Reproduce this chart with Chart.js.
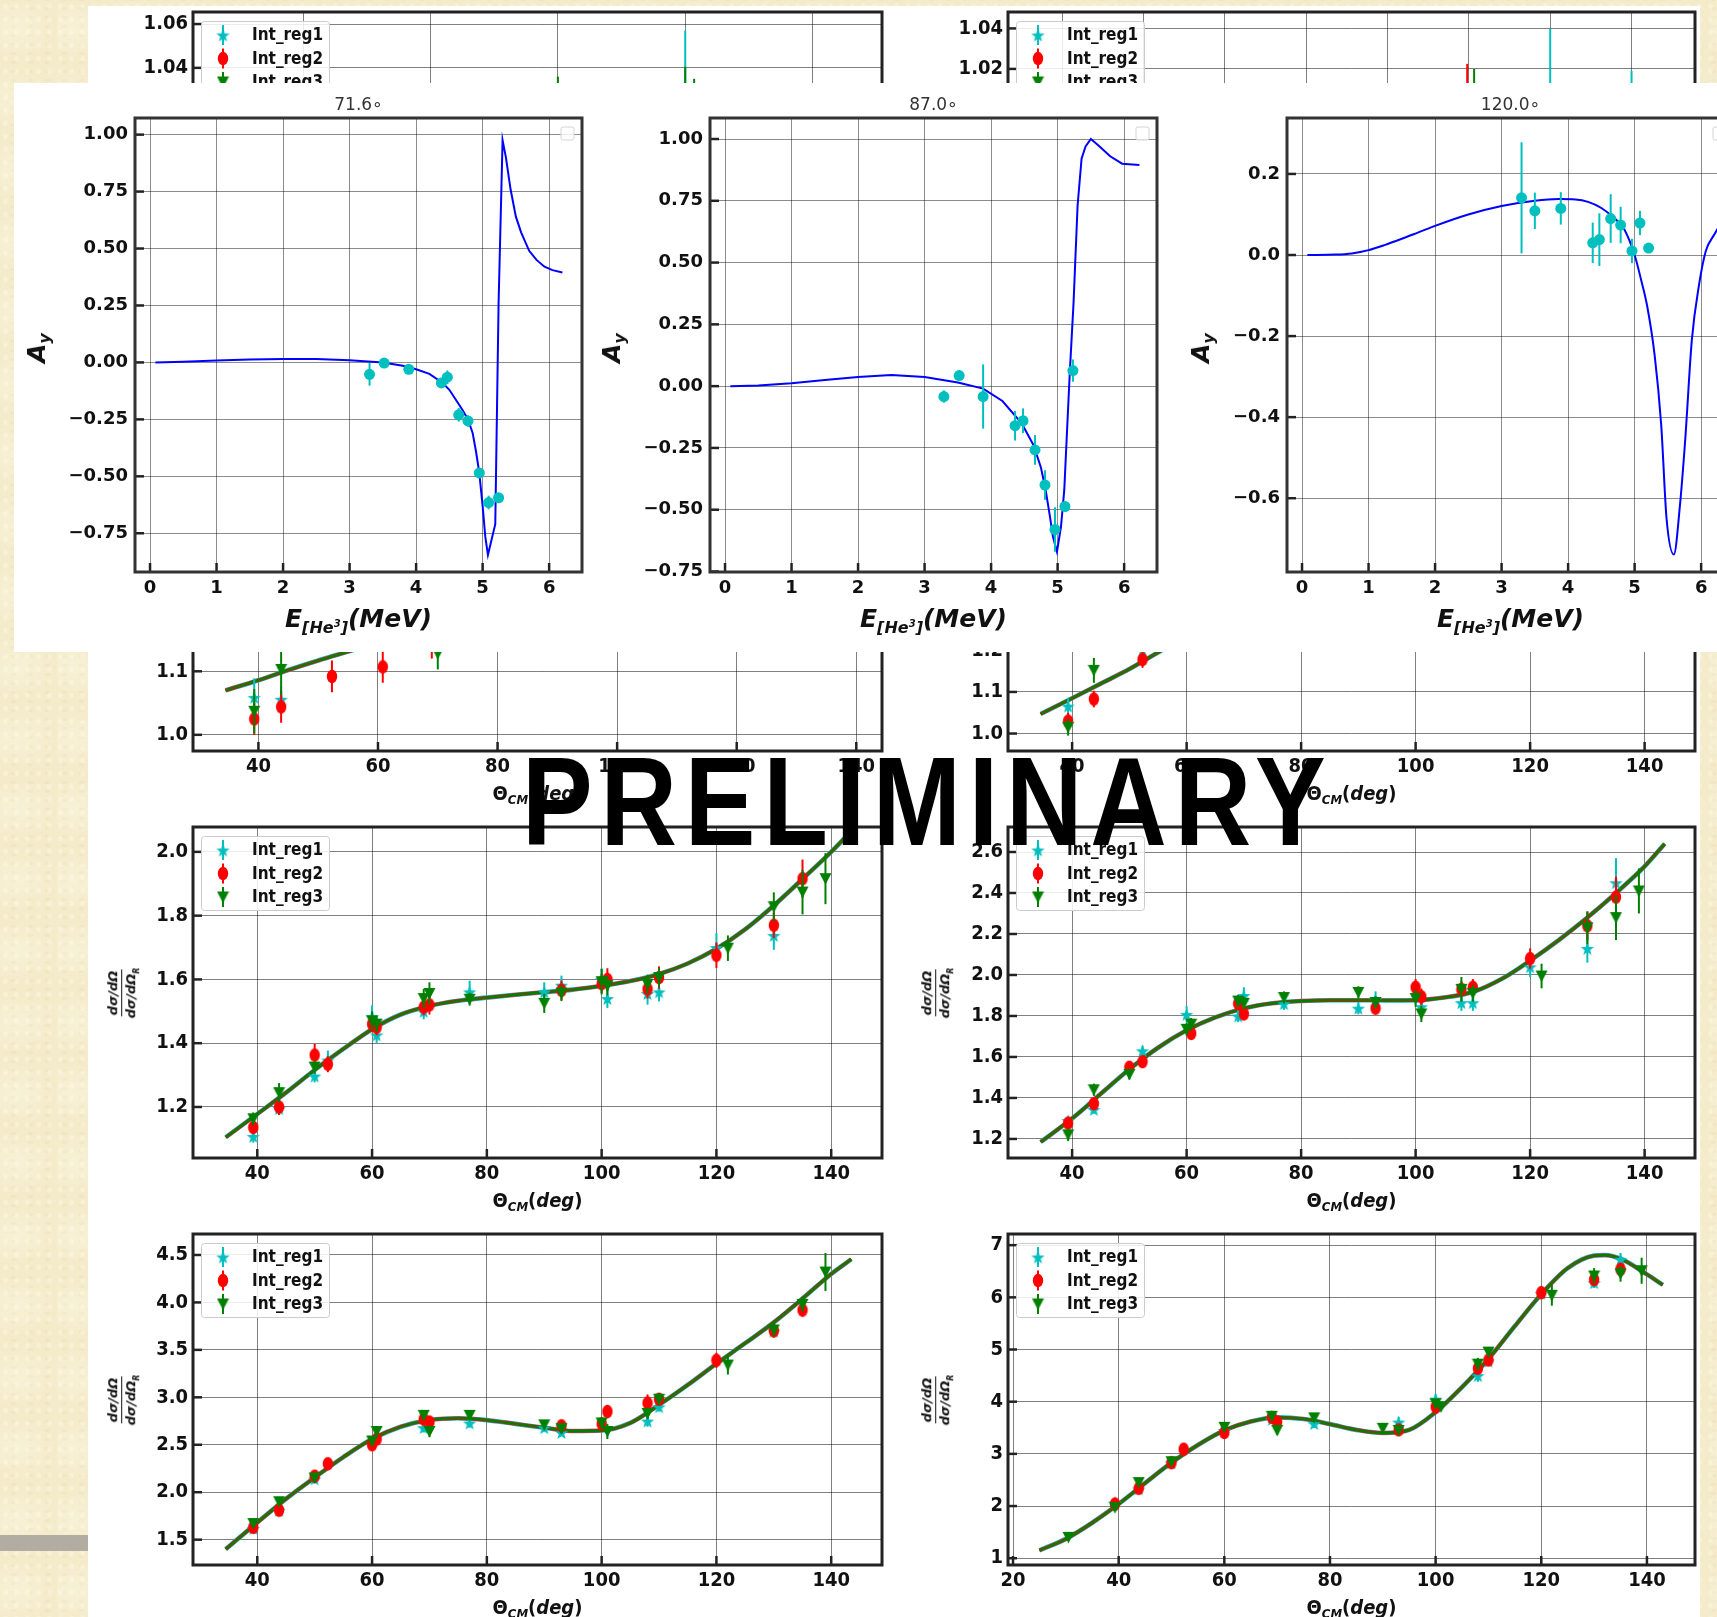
<!DOCTYPE html>
<html>
<head>
<meta charset="utf-8">
<script src="https://cdn.jsdelivr.net/npm/chart.js"></script>
<style>
  html, body { margin: 0; padding: 0; }
  body {
    width: 1717px; height: 1617px; overflow: hidden; position: relative;
    background-color: #f4ebca;
    background-image:
      radial-gradient(ellipse 40px 30px at 30% 40%, rgba(255, 253, 238, 0.35), transparent),
      radial-gradient(rgba(255, 252, 236, 0.35) 1.5px, transparent 3px),
      radial-gradient(rgba(214, 196, 146, 0.14) 2px, transparent 4px);
    background-size: 57px 71px, 11px 13px, 17px 9px;
    background-position: 0 0, 0 0, 5px 4px;
  }
  #slide { position: absolute; left: 88px; top: 6px; width: 1612px; height: 1611px; background: #fff; z-index: 0; }
  #greybar { position: absolute; left: 0; top: 1535px; width: 88px; height: 16px; background: #b1ada3; z-index: 0; }
  #panel { position: absolute; left: 14px; top: 83px; width: 1703px; height: 569px; background: #fff; z-index: 4; }
  canvas { position: absolute; }
  .lbl { position: absolute; white-space: nowrap; transform: translate(-50%, -50%); color: #111; line-height: 1; }
  .xs-x { font: bold 20px "DejaVu Sans Condensed", "Liberation Sans Narrow", "DejaVu Sans", sans-serif; }
  .xs-x sub { font-size: 13px; vertical-align: -4px; font-style: italic; }
  .xs-x i { font-style: italic; }
  .ay-x { font: bold italic 25px "DejaVu Sans", sans-serif; }
  .ay-x sub { font-size: 16px; vertical-align: -6px; }
  .ay-x sup { font-size: 10px; vertical-align: 6px; }
  .ay-y { font: bold italic 25px "DejaVu Sans", sans-serif; transform: translate(-50%, -50%) rotate(-90deg); }
  .ay-y sub { font-size: 16px; vertical-align: -5px; }
  .ay-t { font: 17px "DejaVu Sans", sans-serif; color: #333; }
  .frac { font: bold italic 13px "DejaVu Sans", sans-serif; transform: translate(-50%, -50%) rotate(-90deg);
          display: flex; flex-direction: column; align-items: center; }
  .frac .num { border-bottom: 1px solid #111; padding: 0 1px 1px; }
  .frac .den { padding-top: 1px; }
  .frac sub { font-size: 8px; }
  #stamp { position: absolute; z-index: 10; white-space: nowrap; font-weight: bold; color: #000; line-height: 1; transform-origin: 0 0; }
  #stampBase { display: inline-block; width: 0; height: 0; vertical-align: baseline; }
</style>
</head>
<body>
<div id="slide"></div>
<div id="greybar"></div>
<div id="panel"></div>
<div id="stamp"><span id="stampText">PRELIMINARY</span><span id="stampBase"></span></div>

<script>
// ================= data =================

// Analysing power A_y versus 3He beam energy at three c.m. angles
const AY_TITLES = ['71.6\u2218', '87.0\u2218', '120.0\u2218'];
const AY_E_TICKS = [0, 1, 2, 3, 4, 5, 6];
const AY_TICKS_A = [-0.75, -0.5, -0.25, 0, 0.25, 0.5, 0.75, 1.0];
const AY_TICKS_B = [-0.6, -0.4, -0.2, 0, 0.2];

const AY716_E   = [3.30, 3.52, 3.89, 4.38, 4.47, 4.64, 4.78, 4.95, 5.09, 5.24];
const AY716_VAL = [-0.052, -0.003, -0.030, -0.090, -0.065, -0.230, -0.257, -0.485, -0.615, -0.594];
const AY716_ERR = [0.050, 0.020, 0.020, 0.020, 0.030, 0.030, 0.025, 0.020, 0.030, 0.020];
const AY716_FIT_E = [0.08, 0.5, 1.0, 1.5, 2.0, 2.5, 3.0, 3.5, 3.8, 4.0, 4.2, 4.4, 4.5, 4.6, 4.7, 4.78, 4.85,
                     4.9, 4.95, 5.0, 5.04, 5.08, 5.19, 5.24, 5.30, 5.35, 5.42, 5.50, 5.58, 5.70, 5.81, 5.93, 6.05, 6.20];
const AY716_FIT   = [0, 0.003, 0.008, 0.013, 0.015, 0.015, 0.010, 0.0, -0.015, -0.03, -0.05, -0.09, -0.12, -0.165,
                     -0.21, -0.25, -0.31, -0.39, -0.485, -0.63, -0.765, -0.845, -0.71, 0.26, 0.975, 0.90, 0.76,
                     0.64, 0.57, 0.49, 0.45, 0.42, 0.405, 0.395];

const AY870_E   = [3.29, 3.52, 3.88, 4.36, 4.48, 4.66, 4.81, 4.96, 5.11, 5.23];
const AY870_VAL = [-0.042, 0.043, -0.042, -0.160, -0.140, -0.258, -0.400, -0.580, -0.487, 0.063];
const AY870_ERR = [0.025, 0.020, 0.130, 0.060, 0.050, 0.060, 0.060, 0.090, 0.020, 0.045];
const AY870_FIT_E = [0.08, 0.5, 1.0, 1.5, 2.0, 2.5, 3.0, 3.5, 3.88, 4.17, 4.46, 4.64, 4.75, 4.82, 4.88, 4.93,
                     4.99, 5.05, 5.10, 5.18, 5.24, 5.30, 5.36, 5.42, 5.50, 5.61, 5.79, 5.97, 6.23];
const AY870_FIT   = [0, 0.003, 0.012, 0.025, 0.037, 0.045, 0.037, 0.015, -0.01, -0.06, -0.15, -0.24, -0.33,
                     -0.42, -0.52, -0.61, -0.67, -0.57, -0.42, 0.04, 0.34, 0.73, 0.92, 0.97, 1.00, 0.975,
                     0.93, 0.90, 0.895];

const AY1200_E   = [3.30, 3.50, 3.89, 4.37, 4.47, 4.64, 4.79, 4.96, 5.08, 5.21];
const AY1200_VAL = [0.141, 0.109, 0.115, 0.030, 0.038, 0.090, 0.074, 0.010, 0.079, 0.017];
const AY1200_ERR = [0.137, 0.045, 0.040, 0.050, 0.065, 0.060, 0.045, 0.030, 0.030, 0.010];
const AY1200_FIT_E = [0.08, 0.5, 0.75, 1.0, 1.25, 1.5, 1.75, 2.0, 2.5, 3.0, 3.5, 3.86, 4.11, 4.3, 4.5, 4.7, 4.84,
                      5.0, 5.1, 5.19, 5.30, 5.40, 5.48, 5.59, 5.68, 5.76, 5.86, 5.97, 6.07, 6.20, 6.30];
const AY1200_FIT   = [0, 0.001, 0.004, 0.012, 0.025, 0.040, 0.056, 0.072, 0.100, 0.121, 0.134, 0.138, 0.137,
                      0.131, 0.116, 0.090, 0.065, 0.0, -0.063, -0.127, -0.246, -0.42, -0.65, -0.739, -0.62,
                      -0.457, -0.21, -0.072, 0.01, 0.051, 0.08];

// Cross section ratio to Rutherford versus c.m. angle, three integration regions
const XS_SERIES = ['Int_reg1', 'Int_reg2', 'Int_reg3'];
const XS_ANG = [30.5, 39.3, 43.8, 50.0, 52.3, 60.0, 60.8, 69.0, 70.0, 77.0, 90.0, 93.0, 100.0, 101.0, 108.0,
                110.0, 120.0, 122.0, 130.0, 135.0, 139.0];
const XS_FIT_ANG = [34.5, 40, 45, 50, 55, 60, 65, 70, 75, 80, 85, 90, 95, 100, 105, 110, 115, 120, 125, 130,
                    135, 140, 143.5];
const XS_THETA_TICKS = [40, 60, 80, 100, 120, 140];

// top row (mostly under the A_y panel)
const P1L_ANG1 = [100.0];             const P1L_REG1 = [1.005];               const P1L_ERR1 = [0.052];
const P1L_ANG2 = [];                  const P1L_REG2 = [];                    const P1L_ERR2 = [];
const P1L_ANG3 = [80.0, 100.0, 101.4]; const P1L_REG3 = [1.000, 1.000, 1.000]; const P1L_ERR3 = [0.036, 0.0405, 0.035];
const P1L_XTICKS = [40, 60, 80, 100, 120];
const P1L_YTICKS = [0.92, 0.94, 0.96, 0.98, 1.00, 1.02, 1.04, 1.06];

const P1R_ANG1 = [120.0, 140.0];      const P1R_REG1 = [1.000, 0.995];        const P1R_ERR1 = [0.040, 0.024];
const P1R_ANG2 = [99.6];              const P1R_REG2 = [0.995];               const P1R_ERR2 = [0.0275];
const P1R_ANG3 = [101.3];             const P1R_REG3 = [0.995];               const P1R_ERR3 = [0.025];
const P1R_XTICKS = [0, 20, 40, 60, 80, 100, 120, 140];
const P1R_YTICKS = [0.90, 0.92, 0.94, 0.96, 0.98, 1.00, 1.02, 1.04];

// second row (upper part under the A_y panel)
const P2L_ANG1 = [39.3, 43.8];                   const P2L_REG1 = [1.059, 1.056];                      const P2L_ERR1 = [0.030, 0.020];
const P2L_ANG2 = [39.3, 43.8, 52.3, 60.8, 69.0]; const P2L_REG2 = [1.025, 1.044, 1.092, 1.107, 1.145]; const P2L_ERR2 = [0.025, 0.025, 0.025, 0.025, 0.025];
const P2L_ANG3 = [39.3, 43.8, 70.0];             const P2L_REG3 = [1.037, 1.103, 1.128];               const P2L_ERR3 = [0.035, 0.040, 0.025];
const P2L_FIT_ANG = [34.5, 40, 45, 50, 55, 60];
const P2L_FIT = [1.070, 1.086, 1.102, 1.117, 1.131, 1.145];
const P2L_YTICKS = [1.0, 1.1, 1.2, 1.3, 1.4];

const P2R_ANG1 = [39.3, 52.3];                   const P2R_REG1 = [1.066, 1.200];                      const P2R_ERR1 = [0.020, 0.020];
const P2R_ANG2 = [39.3, 43.8, 52.3];             const P2R_REG2 = [1.030, 1.083, 1.178];               const P2R_ERR2 = [0.020, 0.020, 0.020];
const P2R_ANG3 = [39.3, 43.8];                   const P2R_REG3 = [1.015, 1.152];                      const P2R_ERR3 = [0.020, 0.030];
const P2R_FIT_ANG = [34.5, 40, 45, 50, 55, 60];
const P2R_FIT = [1.047, 1.085, 1.120, 1.155, 1.195, 1.235];
const P2R_YTICKS = [1.0, 1.1, 1.2, 1.3, 1.4, 1.5, 1.6, 1.7];

// third row
const P3L_REG1 = [null, 1.108, 1.195, 1.297, 1.347, 1.484, 1.426, 1.500, null, 1.561, 1.561, 1.582, 1.600, 1.540, 1.556, 1.561, 1.700, null, 1.738, null, null];
const P3L_ERR1 = [null, .020, .020, .020, .030, .035, .025, .025, null, .035, .030, .030, .035, .030, .035, .030, .045, null, .045, null, null];
const P3L_REG2 = [null, 1.136, 1.200, 1.363, 1.334, 1.460, 1.450, 1.513, 1.520, null, null, 1.566, 1.587, 1.600, 1.570, 1.606, 1.676, null, 1.770, 1.916, null];
const P3L_ERR2 = [null, .020, .025, .035, .025, .025, .025, .025, .030, null, null, .030, .030, .035, .030, .035, .040, null, .040, .060, null];
const P3L_REG3 = [null, 1.163, 1.245, 1.325, null, 1.470, 1.460, 1.540, 1.556, 1.538, 1.525, 1.557, 1.593, 1.580, 1.585, 1.606, null, 1.698, 1.828, 1.874, 1.916];
const P3L_ERR3 = [null, .020, .030, .020, null, .030, .025, .030, .035, .020, .030, .025, .040, .030, .030, .030, null, .040, .045, .070, .080];
const P3L_FIT  = [1.105, 1.178, 1.245, 1.316, 1.382, 1.444, 1.490, 1.517, 1.533, 1.543, 1.552, 1.560, 1.568, 1.580, 1.595, 1.617, 1.650, 1.696, 1.757, 1.832, 1.915, 2.000, 2.065];
const P3L_YTICKS = [1.2, 1.4, 1.6, 1.8, 2.0];

const P3R_REG1 = [null, 1.290, 1.344, null, 1.630, 1.808, null, 1.800, 1.900, 1.860, 1.838, 1.880, null, 1.845, 1.865, 1.865, 2.040, null, 2.130, 2.450, null];
const P3R_ERR1 = [null, .020, .020, null, .025, .040, null, .030, .040, .030, .030, .040, null, .040, .040, .040, .050, null, .070, .120, null];
const P3R_REG2 = [null, 1.277, 1.372, 1.550, 1.577, null, 1.715, 1.860, 1.810, null, null, 1.838, 1.940, 1.894, 1.930, 1.940, 2.080, null, 2.240, 2.380, null];
const P3R_ERR2 = [null, .025, .030, .030, .025, null, .030, .030, .030, null, null, .030, .040, .040, .040, .040, .050, null, .070, .100, null];
const P3R_REG3 = [null, 1.220, 1.440, 1.515, null, 1.735, 1.760, 1.873, 1.862, 1.890, 1.915, 1.866, 1.885, 1.810, 1.930, 1.910, null, 1.995, 2.230, 2.280, 2.410];
const P3R_ERR3 = [null, .030, .030, .025, null, .030, .030, .030, .030, .030, .030, .030, .040, .040, .060, .040, null, .060, .080, .110, .110];
const P3R_FIT  = [1.185, 1.300, 1.420, 1.540, 1.645, 1.730, 1.793, 1.837, 1.862, 1.873, 1.877, 1.877, 1.876, 1.877, 1.890, 1.917, 1.980, 2.070, 2.170, 2.280, 2.400, 2.530, 2.640];
const P3R_YTICKS = [1.2, 1.4, 1.6, 1.8, 2.0, 2.2, 2.4, 2.6];

// fourth row
const P4L_REG1 = [null, 1.620, 1.810, 2.140, null, null, null, 2.680, null, 2.730, 2.680, 2.630, null, null, 2.750, 2.900, null, null, 3.700, null, null];
const P4L_ERR1 = [null, .040, .040, .040, null, null, null, .050, null, .050, .040, .040, null, null, .060, .050, null, null, .060, null, null];
const P4L_REG2 = [null, 1.630, 1.810, 2.170, 2.300, 2.500, 2.560, 2.770, 2.740, null, null, 2.700, 2.720, 2.850, 2.940, 2.980, 3.390, null, 3.700, 3.920, null];
const P4L_ERR2 = [null, .040, .050, .040, .050, .050, .050, .050, .050, null, null, .050, .060, .070, .090, .060, .080, null, .070, .070, null];
const P4L_REG3 = [null, 1.670, 1.900, 2.150, null, 2.540, 2.640, 2.810, 2.640, 2.810, 2.710, 2.670, 2.730, 2.640, 2.830, 2.980, null, 3.340, 3.710, 3.980, 4.320];
const P4L_ERR3 = [null, .040, .050, .050, null, .050, .050, .050, .060, .050, .050, .050, .060, .080, .060, .060, null, .100, .070, .080, .200];
const P4L_FIT  = [1.400, 1.680, 1.930, 2.155, 2.370, 2.560, 2.690, 2.760, 2.780, 2.760, 2.720, 2.680, 2.645, 2.650, 2.730, 2.920, 3.130, 3.355, 3.570, 3.790, 4.040, 4.300, 4.455];
const P4L_YTICKS = [1.5, 2.0, 2.5, 3.0, 3.5, 4.0, 4.5];

const P4R_REG1 = [null, 2.060, 2.330, 2.830, null, 3.450, null, 3.660, null, 3.580, null, 3.610, 4.050, null, 4.500, 4.780, 6.080, null, 6.280, 6.730, null];
const P4R_ERR1 = [null, .050, .050, .060, null, .060, null, .070, null, .080, null, .100, .100, null, .120, .100, .120, null, .100, .120, null];
const P4R_REG2 = [null, 2.040, 2.340, 2.830, 3.090, 3.410, null, 3.700, 3.610, null, null, 3.460, 3.900, null, 4.640, 4.800, 6.090, null, 6.340, 6.540, null];
const P4R_ERR2 = [null, .050, .060, .060, .070, .070, null, .070, .070, null, null, .070, .080, null, .100, .100, .120, null, .100, .100, null];
const P4R_REG3 = [1.400, 1.970, 2.450, 2.850, null, 3.510, null, 3.720, 3.450, 3.690, 3.490, 3.450, 3.960, 3.900, 4.720, 4.950, null, 6.040, 6.410, 6.450, 6.510];
const P4R_ERR3 = [.050, .050, .060, .060, null, .070, null, .070, .080, .080, .070, .070, .080, .080, .120, .100, null, .200, .150, .150, .250];
const P4R_FIT_ANG = [25, 30, 35, 40, 45, 50, 55, 60, 65, 70, 75, 80, 85, 90, 95, 100, 105, 110, 115, 120, 125, 130, 132, 135, 140, 143];
const P4R_FIT  = [1.15, 1.37, 1.68, 2.04, 2.44, 2.83, 3.17, 3.45, 3.62, 3.70, 3.67, 3.57, 3.46, 3.40, 3.46, 3.80, 4.28, 4.82, 5.45, 6.06, 6.56, 6.80, 6.81, 6.74, 6.44, 6.24];
const P4R_XTICKS = [20, 40, 60, 80, 100, 120, 140];
const P4R_YTICKS = [1, 2, 3, 4, 5, 6, 7];

// ================= styling =================
const C1 = '#00bfbf', C2 = '#ff0000', C3 = '#008000', C_FIT = '#0000ff';
const FONT_XS = '"DejaVu Sans Condensed", "Liberation Sans Narrow", "DejaVu Sans", sans-serif';
const FONT_AY = '"DejaVu Sans", sans-serif';

// page layout of the axes boxes (px)
const COL_L = { l: 193, w: 689 }, COL_R = { l: 1008, w: 687 };
const ROW_T = [12, 420, 827, 1234], ROW_H = 331;
const AY_BOX = { t: 118, h: 454, w: 447, l: [135, 710, 1287] };

// marker sprites
function sprite(w, h, draw) {
  const c = document.createElement('canvas');
  c.width = w; c.height = h;
  draw(c.getContext('2d'), w, h);
  return c;
}
const MK_STAR = sprite(15, 15, (g, w, h) => {
  g.fillStyle = C1; g.beginPath();
  for (let i = 0; i < 10; i++) {
    const r = i % 2 ? 2.9 : 7.0, a = -Math.PI / 2 + i * Math.PI / 5;
    g.lineTo(w / 2 + r * Math.cos(a), h / 2 + 0.8 + r * Math.sin(a));
  }
  g.closePath(); g.fill();
});
const MK_DOT = sprite(12, 15, (g, w, h) => {
  g.fillStyle = C2; g.beginPath(); g.ellipse(w / 2, h / 2, 5.2, 6.8, 0, 0, Math.PI * 2); g.fill();
});
const MK_TRI = sprite(13, 13, (g, w, h) => {
  g.fillStyle = C3; g.beginPath(); g.moveTo(0.5, 1); g.lineTo(w - 0.5, 1); g.lineTo(w / 2, h - 0.5); g.closePath(); g.fill();
});

function fmt(dec) {
  return v => {
    const s = Math.abs(v).toFixed(dec);
    return (v < 0 && Number(s) !== 0 ? '\u2212' : '') + s;
  };
}

function rrect(ctx, x, y, w, h, r) {
  ctx.beginPath();
  ctx.moveTo(x + r, y); ctx.lineTo(x + w - r, y); ctx.arcTo(x + w, y, x + w, y + r, r);
  ctx.lineTo(x + w, y + h - r); ctx.arcTo(x + w, y + h, x + w - r, y + h, r);
  ctx.lineTo(x + r, y + h); ctx.arcTo(x, y + h, x, y + h - r, r);
  ctx.lineTo(x, y + r); ctx.arcTo(x, y, x + r, y, r); ctx.closePath();
}

// vertical error bars, drawn just beneath each dataset's markers
const errorBars = {
  id: 'errorBars',
  beforeDatasetDraw(chart, args) {
    const ds = chart.data.datasets[args.index];
    if (!ds.errs) return;
    const { ctx, chartArea: a, scales: { y } } = chart;
    ctx.save();
    ctx.beginPath(); ctx.rect(a.left, a.top, a.right - a.left, a.bottom - a.top); ctx.clip();
    ctx.strokeStyle = ds.borderColor; ctx.lineWidth = ds.errWidth || 2;
    args.meta.data.forEach((el, i) => {
      const p = ds.data[i], e = ds.errs[i];
      ctx.beginPath();
      ctx.moveTo(el.x, y.getPixelForValue(p.y - e));
      ctx.lineTo(el.x, y.getPixelForValue(p.y + e));
      ctx.stroke();
    });
    ctx.restore();
  }
};

// boxed axes with inward ticks on the bottom and left sides
const mplFrame = {
  id: 'mplFrame',
  afterDatasetsDraw(chart, args, o) {
    const { ctx, chartArea: a, scales: { x, y } } = chart;
    ctx.save();
    ctx.strokeStyle = o.tickColor; ctx.lineWidth = o.tickWidth;
    x.ticks.forEach(t => {
      const px = x.getPixelForValue(t.value);
      ctx.beginPath(); ctx.moveTo(px, a.bottom); ctx.lineTo(px, a.bottom - o.tickLen); ctx.stroke();
    });
    y.ticks.forEach(t => {
      const py = y.getPixelForValue(t.value);
      ctx.beginPath(); ctx.moveTo(a.left, py); ctx.lineTo(a.left + o.tickLen, py); ctx.stroke();
    });
    ctx.strokeStyle = o.frameColor; ctx.lineWidth = o.frameWidth;
    ctx.strokeRect(a.left, a.top, a.right - a.left, a.bottom - a.top);
    ctx.restore();
  }
};

// legend box in the upper corner of the axes
const mplLegend = {
  id: 'mplLegend',
  afterDraw(chart, args, o) {
    const { ctx, chartArea: a } = chart;
    ctx.save();
    if (o.empty) {
      rrect(ctx, a.right - 21, a.top + 9, 13, 13, 2);
      ctx.fillStyle = 'rgba(255,255,255,0.8)'; ctx.fill();
      ctx.strokeStyle = '#d4d4d4'; ctx.lineWidth = 1; ctx.stroke();
      ctx.restore();
      return;
    }
    const x0 = a.left + 8, y0 = a.top + 9;
    rrect(ctx, x0 + 0.5, y0 + 0.5, 128, 74, 3);
    ctx.fillStyle = 'rgba(255,255,255,0.85)'; ctx.fill();
    ctx.strokeStyle = '#cccccc'; ctx.lineWidth = 1; ctx.stroke();
    const items = chart.data.datasets.filter(d => d.legendImg).sort((p, q) => p.legendRank - q.legendRank);
    items.forEach((d, i) => {
      const cy = y0 + 14 + i * 23.5, mx = x0 + 22;
      ctx.strokeStyle = d.borderColor; ctx.lineWidth = 2;
      ctx.beginPath(); ctx.moveTo(mx, cy - 10); ctx.lineTo(mx, cy + 10); ctx.stroke();
      ctx.drawImage(d.legendImg, mx - d.legendImg.width / 2, cy - d.legendImg.height / 2);
      ctx.fillStyle = '#111'; ctx.font = 'bold 17px ' + FONT_XS; ctx.textBaseline = 'middle'; ctx.textAlign = 'left';
      ctx.fillText(d.label, x0 + 51, cy + 1);
    });
    ctx.restore();
  }
};

function makeChart(o) {
  const { box, pad } = o;
  const cv = document.createElement('canvas');
  const W = pad.l + box.w + pad.r, H = pad.t + box.h + pad.b;
  cv.width = W; cv.height = H;
  Object.assign(cv.style, { left: (box.l - pad.l) + 'px', top: (box.t - pad.t) + 'px', width: W + 'px', height: H + 'px', zIndex: o.z });
  document.body.appendChild(cv);
  const tickFont = { family: o.font, size: o.fontSize, weight: 'bold' };
  const axis = (min, max, ticks, dec, fit, padding) => ({
    type: 'linear', min, max,
    afterBuildTicks: s => { s.ticks = ticks.filter(v => v >= min - 1e-9 && v <= max + 1e-9).map(v => ({ value: v })); },
    afterFit: fit,
    grid: { color: o.gridColor, lineWidth: 1, drawTicks: false },
    border: { display: false },
    ticks: { font: tickFont, color: '#111', padding, autoSkip: false, maxRotation: 0, minRotation: 0, callback: fmt(dec) }
  });
  return new Chart(cv, {
    type: 'scatter',
    data: { datasets: o.datasets },
    options: {
      responsive: false, animation: false, devicePixelRatio: 1, events: [],
      layout: { padding: { left: 0, top: pad.t, right: pad.r, bottom: 0 } },
      scales: {
        x: axis(o.xr[0], o.xr[1], o.xt, o.xdec, s => { s.height = pad.b; }, o.xpad),
        y: axis(o.yr[0], o.yr[1], o.yt, o.ydec, s => { s.width = pad.l; }, o.ypad)
      },
      plugins: {
        legend: { display: false }, tooltip: { enabled: false },
        mplFrame: { tickLen: 9, tickWidth: 2.5, tickColor: '#222', frameColor: o.frameColor, frameWidth: 3 },
        mplLegend: o.legend
      }
    },
    plugins: [errorBars, mplFrame, mplLegend]
  });
}

function series(ang, val, err) {
  const data = [], errs = [];
  ang.forEach((a, i) => { if (val[i] != null) { data.push({ x: a, y: val[i] }); errs.push(err[i]); } });
  return { data, errs };
}
function curve(ang, val) { return ang.map((a, i) => ({ x: a, y: val[i] })); }

function label(html, cx, cy, cls, z) {
  const d = document.createElement('div');
  d.className = 'lbl ' + cls; d.innerHTML = html;
  d.style.left = cx + 'px'; d.style.top = cy + 'px'; d.style.zIndex = z;
  document.body.appendChild(d);
}

// ---- cross-section panels
function xsChart(p) {
  const s1 = series(p.a1, p.v1, p.e1), s2 = series(p.a2, p.v2, p.e2), s3 = series(p.a3, p.v3, p.e3);
  const pts = (s, lab, img, col, rank, order) => ({
    label: lab, data: s.data, errs: s.errs, showLine: false, pointStyle: img, pointRadius: 6,
    borderColor: col, backgroundColor: col, legendImg: img, legendRank: rank, order
  });
  const ds = [
    pts(s3, XS_SERIES[2], MK_TRI, C3, 3, 0),
    pts(s2, XS_SERIES[1], MK_DOT, C2, 2, 1),
    pts(s1, XS_SERIES[0], MK_STAR, C1, 1, 2)
  ];
  if (p.fit) {
    const line = (col, w, order) => ({ data: curve(p.fit[0], p.fit[1]), showLine: true, pointRadius: 0,
      borderColor: col, borderWidth: w, cubicInterpolationMode: 'monotone', order });
    ds.push(line(C3, 2.3, 3), line(C2, 3.4, 4), line(C1, 4.6, 5));
  }
  const col = p.col, T = ROW_T[p.row];
  const box = { l: col.l, t: T, w: col.w, h: ROW_H };
  makeChart({
    box, pad: { l: 110, r: 30, t: 20, b: 45 }, z: 1,
    xr: p.xr, yr: p.yr, xt: p.xt || XS_THETA_TICKS, yt: p.yt, xdec: 0, ydec: p.ydec, xpad: 4, ypad: 5,
    font: FONT_XS, fontSize: 20, gridColor: 'rgba(0,0,0,0.5)', frameColor: '#222',
    datasets: ds, legend: { empty: false }
  });
  label('\u0398<sub>CM</sub>(<i>deg</i>)', col.l + col.w / 2, T + ROW_H + 43, 'xs-x', 1);
  label('<span class="num"><i>d\u03c3</i>/<i>d</i>\u03a9</span><span class="den"><i>d\u03c3</i>/<i>d</i>\u03a9<sub>R</sub></span>',
        col === COL_L ? 123 : 937, T + ROW_H / 2, 'frac', 1);
}

xsChart({ row: 0, col: COL_L, xr: [22.7, 130.9], yr: [0.9144, 1.0655], xt: P1L_XTICKS, yt: P1L_YTICKS, ydec: 2,
  a1: P1L_ANG1, v1: P1L_REG1, e1: P1L_ERR1, a2: P1L_ANG2, v2: P1L_REG2, e2: P1L_ERR2, a3: P1L_ANG3, v3: P1L_REG3, e3: P1L_ERR3 });
xsChart({ row: 0, col: COL_R, xr: [-13.3, 155.6], yr: [0.8847, 1.0481], xt: P1R_XTICKS, yt: P1R_YTICKS, ydec: 2,
  a1: P1R_ANG1, v1: P1R_REG1, e1: P1R_ERR1, a2: P1R_ANG2, v2: P1R_REG2, e2: P1R_ERR2, a3: P1R_ANG3, v3: P1R_REG3, e3: P1R_ERR3 });

xsChart({ row: 1, col: COL_L, xr: [29.06, 144.3], yr: [0.9745, 1.4957], yt: P2L_YTICKS, ydec: 1,
  a1: P2L_ANG1, v1: P2L_REG1, e1: P2L_ERR1, a2: P2L_ANG2, v2: P2L_REG2, e2: P2L_ERR2, a3: P2L_ANG3, v3: P2L_REG3, e3: P2L_ERR3,
  fit: [P2L_FIT_ANG, P2L_FIT] });
xsChart({ row: 1, col: COL_R, xr: [28.8, 148.8], yr: [0.958, 1.754], yt: P2R_YTICKS, ydec: 1,
  a1: P2R_ANG1, v1: P2R_REG1, e1: P2R_ERR1, a2: P2R_ANG2, v2: P2R_REG2, e2: P2R_ERR2, a3: P2R_ANG3, v3: P2R_REG3, e3: P2R_ERR3,
  fit: [P2R_FIT_ANG, P2R_FIT] });

xsChart({ row: 2, col: COL_L, xr: [28.8, 148.85], yr: [1.040, 2.078], yt: P3L_YTICKS, ydec: 1,
  a1: XS_ANG, v1: P3L_REG1, e1: P3L_ERR1, a2: XS_ANG, v2: P3L_REG2, e2: P3L_ERR2, a3: XS_ANG, v3: P3L_REG3, e3: P3L_ERR3,
  fit: [XS_FIT_ANG, P3L_FIT] });
xsChart({ row: 2, col: COL_R, xr: [28.8, 148.8], yr: [1.107, 2.722], yt: P3R_YTICKS, ydec: 1,
  a1: XS_ANG, v1: P3R_REG1, e1: P3R_ERR1, a2: XS_ANG, v2: P3R_REG2, e2: P3R_ERR2, a3: XS_ANG, v3: P3R_REG3, e3: P3R_ERR3,
  fit: [XS_FIT_ANG, P3R_FIT] });

xsChart({ row: 3, col: COL_L, xr: [28.8, 148.85], yr: [1.233, 4.721], yt: P4L_YTICKS, ydec: 1,
  a1: XS_ANG, v1: P4L_REG1, e1: P4L_ERR1, a2: XS_ANG, v2: P4L_REG2, e2: P4L_ERR2, a3: XS_ANG, v3: P4L_REG3, e3: P4L_ERR3,
  fit: [XS_FIT_ANG, P4L_FIT] });
xsChart({ row: 3, col: COL_R, xr: [19.05, 149.1], yr: [0.87, 7.214], xt: P4R_XTICKS, yt: P4R_YTICKS, ydec: 0,
  a1: XS_ANG, v1: P4R_REG1, e1: P4R_ERR1, a2: XS_ANG, v2: P4R_REG2, e2: P4R_ERR2, a3: XS_ANG, v3: P4R_REG3, e3: P4R_ERR3,
  fit: [P4R_FIT_ANG, P4R_FIT] });

// ---- analysing power panels
function ayChart(i, E, A, ERR, FE, FA, yr, yt, ydec, smooth, ylabX) {
  const l = AY_BOX.l[i];
  const box = { l, t: AY_BOX.t, w: AY_BOX.w, h: AY_BOX.h };
  const pts = series(E, A, ERR);
  makeChart({
    box, pad: { l: 110, r: 30, t: 20, b: 45 }, z: 5,
    xr: [-0.226, -0.226 + 6.72], yr, xt: AY_E_TICKS, yt, xdec: 0, ydec, xpad: 6, ypad: 7,
    font: FONT_AY, fontSize: 18, gridColor: 'rgba(0,0,0,0.45)', frameColor: '#333',
    datasets: [
      { label: 'A_y', data: pts.data, errs: pts.errs, showLine: false, pointStyle: 'circle', pointRadius: 5.5,
        backgroundColor: C1, borderColor: C1, borderWidth: 0, order: 0 },
      { data: curve(FE, FA), showLine: true, pointRadius: 0, borderColor: C_FIT, borderWidth: 2,
        cubicInterpolationMode: smooth ? 'monotone' : 'default', tension: 0, order: 1 }
    ],
    legend: { empty: true }
  });
  label(AY_TITLES[i], l + AY_BOX.w / 2, 104, 'ay-t', 6);
  label('E<sub>[He<sup>3</sup>]</sub>(MeV)', l + AY_BOX.w / 2, 620, 'ay-x', 6);
  label('A<sub>y</sub>', ylabX, AY_BOX.t + AY_BOX.h / 2 + 3, 'ay-y', 6);
}
ayChart(0, AY716_E, AY716_VAL, AY716_ERR, AY716_FIT_E, AY716_FIT, [-0.92, 1.073], AY_TICKS_A, 2, false, 38);
ayChart(1, AY870_E, AY870_VAL, AY870_ERR, AY870_FIT_E, AY870_FIT, [-0.752, 1.085], AY_TICKS_A, 2, false, 613);
ayChart(2, AY1200_E, AY1200_VAL, AY1200_ERR, AY1200_FIT_E, AY1200_FIT, [-0.782, 0.338], AY_TICKS_B, 1, true, 1202);

// ---- stamp across the middle of the page
(function placeStamp() {
  const STAMP = { left: 529, width: 796, cap: 87, base: 845 };
  const el = document.getElementById('stamp');
  const txt = document.getElementById('stampText').textContent;
  const g = document.createElement('canvas').getContext('2d');
  g.font = 'bold 100px monospace'; const wMono = g.measureText(txt).width;
  g.font = 'bold 100px "Liberation Sans Narrow", monospace'; const wNar = g.measureText(txt).width;
  const narrow = Math.abs(wNar - wMono) > 1;
  const fam = (narrow ? '"Liberation Sans Narrow"' : '"Liberation Sans"') + ', "DejaVu Sans", sans-serif';
  g.font = 'bold 100px ' + fam;
  const capRatio = g.measureText('P').actualBoundingBoxAscent / 100;
  const size = STAMP.cap / capRatio;
  g.font = 'bold ' + size + 'px ' + fam;
  const m = g.measureText(txt);
  const scale = narrow ? 1 : 0.84;
  const ink = (m.actualBoundingBoxLeft + m.actualBoundingBoxRight) * scale;
  const spacing = (STAMP.width - ink) / (txt.length - 1) / scale;
  el.style.fontFamily = fam;
  el.style.fontSize = size + 'px';
  el.style.letterSpacing = spacing + 'px';
  el.style.transform = 'scaleX(' + scale + ')';
  const base = document.getElementById('stampBase').offsetTop;
  el.style.top = (STAMP.base - base) + 'px';
  el.style.left = (STAMP.left + m.actualBoundingBoxLeft * scale) + 'px';
})();
</script>
</body>
</html>
